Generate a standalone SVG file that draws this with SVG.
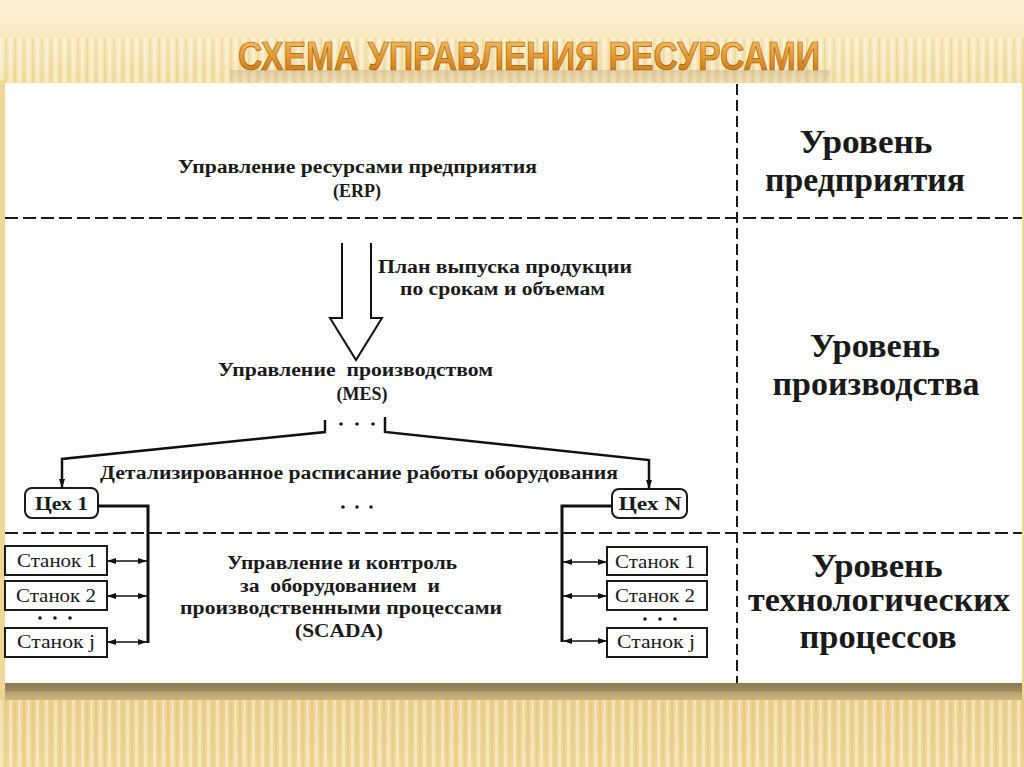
<svg xmlns="http://www.w3.org/2000/svg" width="1024" height="767" viewBox="0 0 1024 767">
<defs>
  <linearGradient id="bgTop" x1="0" y1="0" x2="0" y2="1">
    <stop offset="0" stop-color="#fcf2d6"/>
    <stop offset="1" stop-color="#f4dea2"/>
  </linearGradient>
  <linearGradient id="bgBot" x1="0" y1="0" x2="0" y2="1">
    <stop offset="0" stop-color="#ead08c"/>
    <stop offset="1" stop-color="#f0da9a"/>
  </linearGradient>
  <linearGradient id="shadowBar" x1="0" y1="0" x2="0" y2="1">
    <stop offset="0" stop-color="#8a7a52"/>
    <stop offset="0.45" stop-color="#9c8b60"/>
    <stop offset="0.55" stop-color="#b6a26f"/>
    <stop offset="1" stop-color="#cdb57c"/>
  </linearGradient>
  <linearGradient id="reflBand" x1="0" y1="0" x2="0" y2="1">
    <stop offset="0" stop-color="#c9b48a" stop-opacity="0.55"/>
    <stop offset="1" stop-color="#c9b48a" stop-opacity="0.1"/>
  </linearGradient>
  <pattern id="stripes" width="9" height="10" patternUnits="userSpaceOnUse">
    <rect x="0" y="0" width="3" height="10" fill="#ffffff" opacity="0.35"/>
    <rect x="5" y="0" width="2" height="10" fill="#c9a955" opacity="0.18"/>
  </pattern>
  <linearGradient id="titleGrad" x1="0" y1="0" x2="0" y2="1">
    <stop offset="0" stop-color="#f7c56a"/>
    <stop offset="0.5" stop-color="#e69a30"/>
    <stop offset="1" stop-color="#c66d0e"/>
  </linearGradient>
  <marker id="ah" viewBox="0 0 10 10" refX="10" refY="5" markerWidth="9" markerHeight="6" markerUnits="userSpaceOnUse" preserveAspectRatio="none" orient="auto-start-reverse">
    <path d="M0,0 L10,5 L0,10 z" fill="#111"/>
  </marker>
  <style>
    .dash { stroke:#1a1a1a; stroke-width:2.2; stroke-dasharray:13 5; fill:none; }
    .vdash { stroke:#1a1a1a; stroke-width:2; stroke-dasharray:11 5; fill:none; }
    .t { font-family:"Liberation Serif","Times New Roman",serif; font-weight:bold; font-size:18px; fill:#1a1a1a; }
    .lvl { font-family:"Liberation Serif","Times New Roman",serif; font-weight:bold; font-size:33px; fill:#1a1a1a; text-anchor:middle; }
    .st { font-family:"Liberation Serif","Times New Roman",serif; font-size:18px; fill:#1a1a1a; text-anchor:middle; }
    .box { fill:#fff; stroke:#1a1a1a; stroke-width:2; }
    .conn { fill:none; stroke:#111; stroke-width:2.5; }
    .bus { fill:none; stroke:#111; stroke-width:3; }
    .dbl { fill:none; stroke:#111; stroke-width:1.6; marker-start:url(#ah); marker-end:url(#ah); }
    .dot { fill:#1a1a1a; }
    .title { font-family:"Liberation Sans Narrow","Liberation Sans",Arial,sans-serif; font-size:40px; font-weight:bold; }
  </style>
</defs>

<!-- background -->
<rect x="0" y="0" width="1024" height="90" fill="url(#bgTop)"/>
<rect x="0" y="38" width="1024" height="52" fill="url(#stripes)"/>
<rect x="230" y="70" width="600" height="13" fill="url(#reflBand)"/>
<rect x="0" y="680" width="1024" height="87" fill="url(#bgBot)"/>
<rect x="0" y="700" width="1024" height="67" fill="url(#stripes)"/>
<rect x="0" y="80" width="6" height="610" fill="#f0d894"/>
<rect x="1021" y="80" width="3" height="610" fill="#f0d894"/>

<!-- title -->
<g id="title">
  <text class="title" x="238" y="70" textLength="582" lengthAdjust="spacingAndGlyphs" fill="url(#titleGrad)" stroke="#a0600f" stroke-width="0.7">СХЕМА УПРАВЛЕНИЯ РЕСУРСАМИ</text>
</g>

<!-- panel -->
<rect x="5" y="83" width="1017" height="600" fill="#ffffff"/>
<rect x="5" y="683" width="1017" height="17" fill="url(#shadowBar)"/>

<!-- level separators -->
<g id="separators">
  <line class="dash" x1="5" y1="218" x2="1022" y2="218"/>
  <line class="dash" x1="5" y1="533" x2="1022" y2="533"/>
  <line class="vdash" x1="737" y1="84" x2="737" y2="683"/>
</g>

<!-- level labels -->
<g id="level-enterprise">
  <text class="lvl" x="866" y="153" textLength="133" lengthAdjust="spacingAndGlyphs">Уровень</text>
  <text class="lvl" x="865" y="191" textLength="200" lengthAdjust="spacingAndGlyphs">предприятия</text>
</g>
<g id="level-production">
  <text class="lvl" x="875" y="357" textLength="130" lengthAdjust="spacingAndGlyphs">Уровень</text>
  <text class="lvl" x="876" y="395" textLength="207" lengthAdjust="spacingAndGlyphs">производства</text>
</g>
<g id="level-tech">
  <text class="lvl" x="877" y="577" textLength="131" lengthAdjust="spacingAndGlyphs">Уровень</text>
  <text class="lvl" x="879" y="611" textLength="262" lengthAdjust="spacingAndGlyphs">технологических</text>
  <text class="lvl" x="878" y="648" textLength="157" lengthAdjust="spacingAndGlyphs">процессов</text>
</g>

<!-- ERP -->
<g id="erp">
  <text class="t" x="178" y="173" textLength="359" lengthAdjust="spacingAndGlyphs">Управление ресурсами предприятия</text>
  <text class="t" x="357" y="197" text-anchor="middle">(ERP)</text>
</g>

<!-- plan label -->
<g id="plan-label">
  <text class="t" x="378" y="273" textLength="254" lengthAdjust="spacingAndGlyphs">План выпуска продукции</text>
  <text class="t" x="400" y="295" textLength="205" lengthAdjust="spacingAndGlyphs">по срокам и объемам</text>
</g>

<!-- MES -->
<g id="mes">
  <text class="t" x="218" y="376" textLength="275" lengthAdjust="spacingAndGlyphs" xml:space="preserve">Управление  производством</text>
  <text class="t" x="362" y="400" text-anchor="middle">(MES)</text>
  <circle class="dot" cx="341" cy="424" r="1.8"/>
  <circle class="dot" cx="357" cy="424" r="1.8"/>
  <circle class="dot" cx="373" cy="424" r="1.8"/>
</g>

<!-- schedule label -->
<g id="schedule-label">
  <text class="t" x="100" y="479" textLength="518" lengthAdjust="spacingAndGlyphs">Детализированное расписание работы оборудования</text>
  <circle class="dot" cx="343" cy="507" r="1.8"/>
  <circle class="dot" cx="357" cy="507" r="1.8"/>
  <circle class="dot" cx="371" cy="507" r="1.8"/>
</g>

<!-- Цех 1 -->
<g id="ceh1">
  <rect class="box" x="25" y="488" width="73" height="30" rx="7"/>
  <text class="t" x="61.5" y="510" text-anchor="middle" textLength="53" lengthAdjust="spacingAndGlyphs">Цех 1</text>
</g>

<!-- Цех N -->
<g id="cehN">
  <rect class="box" x="612" y="489" width="75" height="29" rx="7"/>
  <text class="t" x="650" y="510" text-anchor="middle" textLength="63" lengthAdjust="spacingAndGlyphs">Цех N</text>
</g>

<!-- left machines -->
<g id="left-stanok1">
  <rect class="box" x="5" y="546" width="102" height="29"/>
  <text class="st" x="57" y="567" textLength="80" lengthAdjust="spacingAndGlyphs">Станок 1</text>
</g>
<g id="left-stanok2">
  <rect class="box" x="5" y="581" width="102" height="29"/>
  <text class="st" x="56" y="602" textLength="80" lengthAdjust="spacingAndGlyphs">Станок 2</text>
</g>
<g id="left-dots">
  <circle class="dot" cx="40" cy="618" r="1.8"/>
  <circle class="dot" cx="55" cy="618" r="1.8"/>
  <circle class="dot" cx="70" cy="618" r="1.8"/>
</g>
<g id="left-stanokj">
  <rect class="box" x="5" y="628" width="102" height="29"/>
  <text class="st" x="56" y="648" textLength="78" lengthAdjust="spacingAndGlyphs">Станок j</text>
</g>

<!-- right machines -->
<g id="right-stanok1">
  <rect class="box" x="607" y="547" width="100" height="28"/>
  <text class="st" x="655" y="568" textLength="80" lengthAdjust="spacingAndGlyphs">Станок 1</text>
</g>
<g id="right-stanok2">
  <rect class="box" x="607" y="581" width="100" height="29"/>
  <text class="st" x="655" y="602" textLength="80" lengthAdjust="spacingAndGlyphs">Станок 2</text>
</g>
<g id="right-dots">
  <circle class="dot" cx="645" cy="619" r="1.8"/>
  <circle class="dot" cx="660" cy="619" r="1.8"/>
  <circle class="dot" cx="675" cy="619" r="1.8"/>
</g>
<g id="right-stanokj">
  <rect class="box" x="607" y="628" width="100" height="29"/>
  <text class="st" x="656" y="648" textLength="78" lengthAdjust="spacingAndGlyphs">Станок j</text>
</g>

<!-- SCADA -->
<g id="scada">
  <text class="t" x="342" y="569" text-anchor="middle" textLength="230" lengthAdjust="spacingAndGlyphs">Управление и контроль</text>
  <text class="t" x="340" y="592" text-anchor="middle" textLength="200" lengthAdjust="spacingAndGlyphs" xml:space="preserve">за  оборудованием  и</text>
  <text class="t" x="341" y="614" text-anchor="middle" textLength="322" lengthAdjust="spacingAndGlyphs">производственными процессами</text>
  <text class="t" x="339" y="637" text-anchor="middle" textLength="88" lengthAdjust="spacingAndGlyphs">(SCADA)</text>
</g>

<!-- connectors -->
<g id="connectors">
  <path d="M342 243 V318 H330 L356 360 L382 318 H371 V243" fill="#fff" stroke="#111" stroke-width="2"/>
  <path class="conn" d="M325 420 V432 L62 459 V488" marker-end="url(#ah)"/>
  <path class="conn" d="M385 417 V432 L649 460 V489" marker-end="url(#ah)"/>
  <path class="bus" d="M98 506 H148 V643"/>
  <path class="bus" d="M612 506 H562 V642"/>
  <line class="dbl" x1="107" y1="561" x2="147" y2="561"/>
  <line class="dbl" x1="107" y1="596" x2="147" y2="596"/>
  <line class="dbl" x1="107" y1="642" x2="147" y2="642"/>
  <line class="dbl" x1="563" y1="562" x2="607" y2="562"/>
  <line class="dbl" x1="563" y1="596" x2="607" y2="596"/>
  <line class="dbl" x1="563" y1="641" x2="607" y2="641"/>
</g>
</svg>
